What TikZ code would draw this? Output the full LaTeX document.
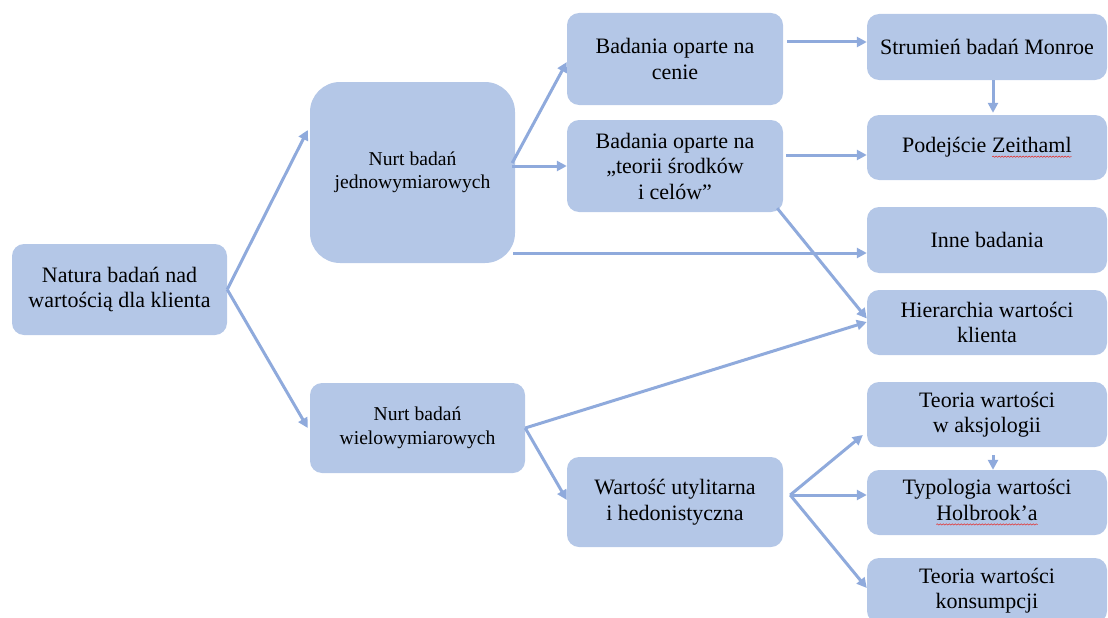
\documentclass[tikz,border=0pt]{standalone}
\usepackage{fontspec}
\setmainfont{Liberation Serif}
\usetikzlibrary{arrows.meta,decorations.pathmorphing}

\definecolor{boxfill}{HTML}{B4C7E7}
\definecolor{linkcol}{HTML}{8FAADC}
\definecolor{spellred}{HTML}{E03A3A}

% word with a wavy spell-check underline
\newcommand\spellmark[1]{\tikz[baseline=(w.base),x=1cm,y=1cm,sharp corners]{%
  \node[inner sep=0pt,outer sep=0pt,minimum width=0pt,minimum height=0pt,
        fill=none,draw=none,sharp corners] (w) {#1};
  \draw[spellred,line width=0.6pt,sharp corners,decorate,
        decoration={snake,amplitude=0.6pt,segment length=3pt}]
    ([yshift=-4pt]w.base west) -- ([yshift=-4pt]w.base east);}}

\begin{document}
\begin{tikzpicture}[x=1pt,y=-1pt,
  box/.style={fill=boxfill,draw=none,rounded corners=12pt,align=center,
    inner sep=0pt,font=\fontsize{22}{25.5}\selectfont},
  smallbox/.style={box,font=\fontsize{19.6}{23.5}\selectfont},
  link/.style={draw=linkcol,line width=3pt,
    -{Triangle[length=10pt,width=10pt]}}]

\clip (0,0) rectangle (1108,618);
\useasboundingbox (0,0) rectangle (1108,618);

% first level
\node[box,minimum width=215pt,minimum height=91pt] (natura) at (119.5,289.5)
  {Natura badań nad\\wartością dla klienta};

% second level
\node[smallbox,rounded corners=30pt,minimum width=205pt,minimum height=181pt]
  (jedno) at (412.5,172.5) {Nurt badań\\jednowymiarowych};
\node[smallbox,minimum width=215pt,minimum height=90pt]
  (wielo) at (417.5,428) {Nurt badań\\wielowymiarowych};

% third level
\node[box,minimum width=216pt,minimum height=92pt] (cena) at (675,59)
  {Badania oparte na\\cenie};
\node[box,minimum width=216pt,minimum height=92pt] (srodki) at (675,166)
  {Badania oparte na\\„teorii środków\\i celów”};
\node[box,minimum width=216pt,minimum height=90pt] (wartosc) at (675,502)
  {Wartość utylitarna\\i hedonistyczna};

% right column
\node[box,minimum width=240pt,minimum height=66pt] (monroe) at (987,47)
  {Strumień badań Monroe};
\node[box,minimum width=240pt,minimum height=65pt] (zeithaml) at (987,147.5)
  {Podejście \spellmark{Zeithaml}};
\node[box,minimum width=240pt,minimum height=66pt] (inne) at (987,240)
  {Inne badania};
\node[box,minimum width=240pt,minimum height=65pt] (hierarchia) at (987,322.5)
  {Hierarchia wartości\\klienta};
\node[box,minimum width=240pt,minimum height=65pt] (aksjologia) at (987,414.5)
  {Teoria wartości\\w aksjologii};
\node[box,minimum width=240pt,minimum height=65pt] (holbrook) at (987,502.5)
  {Typologia wartości\\\spellmark{Holbrook’a}};
\node[box,minimum width=240pt,minimum height=65pt] (konsumpcja) at (987,590.5)
  {Teoria wartości\\konsumpcji};

% connectors
\draw[link] (natura.east) -- ([xshift=-2pt,yshift=42.5pt]jedno.west);
\draw[link] (natura.east) -- ([xshift=-2pt]wielo.west);

\draw[link] ([xshift=-3pt,yshift=9.5pt]jedno.east) -- ([yshift=-3pt]cena.west);
\draw[link] ([xshift=-3pt,yshift=6.5pt]jedno.east) -- (srodki.west);
\draw[link] ([xshift=-2pt,yshift=-80.5pt]jedno.east) -- ([yshift=-13pt]inne.west);

\draw[link] ([xshift=4pt,yshift=17pt]cena.east) -- ([yshift=5pt]monroe.west);
\draw[link] ([xshift=3pt,yshift=11pt]srodki.east) -- ([yshift=-7.5pt]zeithaml.west);
\draw[link,shorten >=2pt] ([xshift=6pt]monroe.south) -- ([xshift=6pt]zeithaml.north);

\draw[link] ([xshift=-6pt,yshift=4pt]srodki.south east) -- ([yshift=4pt]hierarchia.west);
\draw[link] (wielo.east) -- ([yshift=0.5pt]hierarchia.west);
\draw[link] (wielo.east) -- ([yshift=2pt]wartosc.west);

\coordinate (fan) at ([xshift=7pt,yshift=7pt]wartosc.east);
\draw[link] (fan) -- ([xshift=-4pt,yshift=-20.5pt]aksjologia.west);
\draw[link] (fan) -- ([yshift=7.5pt]holbrook.west);
\draw[link] (fan) -- ([yshift=2.5pt]konsumpcja.west);
\draw[link,shorten <=8pt] ([xshift=6pt]aksjologia.south) -- ([xshift=6pt]holbrook.north);

\end{tikzpicture}
\end{document}
